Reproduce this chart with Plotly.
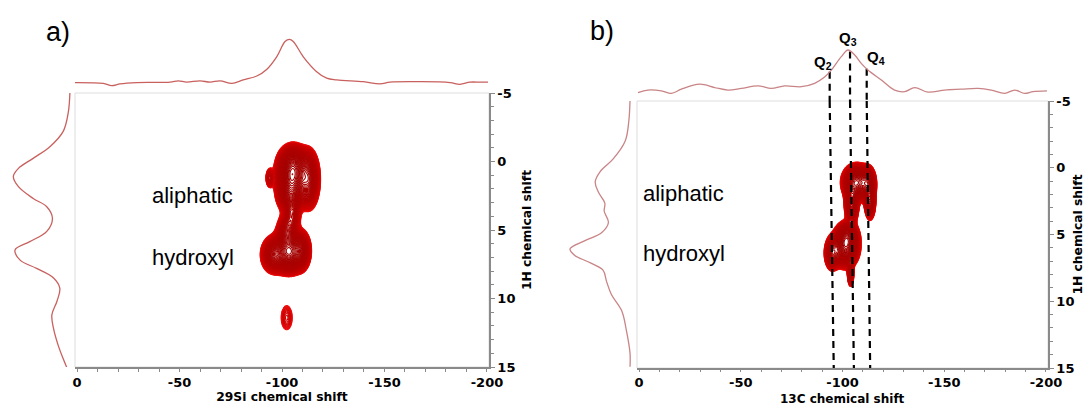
import numpy as np
import plotly.graph_objects as go

W, H = 1085, 407

# ---------------- data ----------------
# Panel a) 29Si projection (top)
a_top_shift = [1, -12.8, -16.9, -21, -29.1, -45.4, -49.4, -53.5, -60, -64.9, -69.8, -75.5, -81.1,
               -87.7, -92.5, -97.4, -101.5, -103.6, -105.5, -110.4, -116.9, -121.8, -126.7,
               -139.7, -147.8, -152.7, -167.3, -182, -186.8, -191.7, -196.6, -200.5]
a_top_int = [0.01, -0.01, -0.06, -0.02, 0.01, 0.02, 0.05, 0.02, 0.05, 0.02, 0.05, -0.01, 0.07,
             0.16, 0.31, 0.60, 0.95, 1.0, 0.95, 0.60, 0.26, 0.11, 0.07,
             0.03, -0.02, 0.02, 0.03, 0.01, -0.03, 0.02, 0.02, 0.02]
# Panel a) 1H projection (left)
a_left_ppm = [-5.2, -3.6, -2.2, -1.1, -0.23, 0.5, 1.1, 1.84, 2.7, 3.3, 4.15, 5.1, 5.85, 6.46,
              7.2, 7.8, 8.5, 9.25, 10.2, 11.2, 12.2, 13.4, 14.4, 15.3]
a_left_int = [0, 0.03, 0.12, 0.35, 0.65, 0.91, 1.0, 0.91, 0.65, 0.41, 0.31, 0.41, 0.71, 0.97,
              0.88, 0.59, 0.29, 0.18, 0.23, 0.32, 0.29, 0.21, 0.12, 0.03]
# Panel a) 2D cross peaks (29Si shift, 1H shift, widths, relative intensity)
a_pk_x = [-105, -94.0, -113, -106, -105, -104, -103.5, -96, -109.5, -102.5, -102.3]
a_pk_y = [1.1, 1.2, 1.3, 0.1, 3.9, 2.5, 6.6, 6.8, 6.5, 5.2, 11.4]
a_pk_sx = [3.5, 1.1, 2.5, 3.5, 2.0, 3.0, 3.5, 3.0, 2.2, 2.5, 2.3]
a_pk_sy = [0.9, 0.4, 1.0, 0.6, 0.6, 0.6, 0.7, 0.65, 0.7, 0.7, 0.75]
a_pk_amp = [1.0, 0.12, 0.45, 0.3, 0.2, 0.35, 0.85, 0.35, 0.3, 0.3, 0.06]

# Panel b) top projection
b_top_shift = [0.5, -4.4, -11, -15.9, -20.8, -29.8, -37.2, -43.7, -50.3, -58.5, -65, -71.6, -79.8,
               -86.3, -91.2, -94.5, -99.4, -102.7, -106, -109.2, -112.5, -119.1, -125.6, -130.6,
               -135.5, -142, -150.2, -158.4, -166.6, -173.1, -179.7, -184.6, -189.5, -193.6, -200.5]
b_top_int = [-0.02, 0.04, 0.02, -0.04, 0.06, 0.18, 0.10, 0.04, 0.08, 0.14, 0.08, 0.14, 0.12,
             0.20, 0.35, 0.52, 0.84, 1.0, 0.88, 0.68, 0.52, 0.28, 0.04, 0.0,
             0.10, -0.01, 0.04, 0.06, 0.08, 0.04, -0.04, 0.04, -0.04, 0.0, 0.02]
# Panel b) 1H projection (left)
b_left_ppm = [-5.07, -3.5, -2.0, -0.66, 0.3, 1.05, 1.8, 2.65, 3.26, 4.1, 4.85, 5.46, 6.08, 6.57,
              7.06, 7.67, 8.53, 9.5, 10.7, 12.2, 13.9, 14.9]
b_left_int = [0, 0.02, 0.08, 0.28, 0.5, 0.58, 0.53, 0.42, 0.43, 0.36, 0.47, 0.75, 1.0, 0.92,
              0.69, 0.45, 0.39, 0.31, 0.14, 0.06, 0.0, 0.0]
# Panel b) 2D cross peaks
b_pk_x = [-107, -112.5, -104.5, -113.5, -101.5, -95, -104, -102.5]
b_pk_y = [1.1, 1.2, 2.6, 2.5, 5.9, 6.4, 7.9, 5.1]
b_pk_sx = [3.2, 1.8, 1.6, 1.3, 3.0, 1.8, 0.8, 2.5]
b_pk_sy = [0.6, 0.6, 0.75, 0.65, 0.7, 0.6, 0.5, 0.5]
b_pk_amp = [1.0, 0.6, 0.65, 0.5, 1.0, 0.5, 0.3, 0.5]

# Q-site guide lines (top / bottom positions) and labels
q_names = ["Q<sub>2</sub>", "Q<sub>3</sub>", "Q<sub>4</sub>"]
q_top = [-93.7, -103.7, -111.9]
q_bottom = [-95.7, -105.6, -113.6]
q_lab_x = [-90.4, -102.5, -116.5]
q_lab_y = [0.71, 1.28, 0.81]

# labels
region_names = ["aliphatic", "hydroxyl"]
a_region_y = [2.5, 7.0]
b_region_y = [1.9, 6.45]
region_x_a = -35.5
region_x_b = -1.0

x_ticks = [0, -50, -100, -150, -200]
x_tick_text = ["0", "-50", "-100", "-150", "-200"]
y_ticks = [-5, 0, 5, 10, 15]
y_tick_text = ["-5", "0", "5", "10", "15"]

# ---------------- helpers ----------------
def px2x(p):
    return p / W

def py2y(p):
    return 1 - p / H

red_scale = [[0, "#f21212"], [0.12, "#d20000"], [0.45, "#b20000"], [1, "#a00000"]]

def field(px, py, sx, sy, amp, xg, yg):
    X, Y = np.meshgrid(xg, yg)
    Z = np.zeros_like(X)
    for cx, cy, wx, wy, a in zip(px, py, sx, sy, amp):
        Z += a * np.exp(-0.5 * ((X - cx) / wx) ** 2 - 0.5 * ((Y - cy) / wy) ** 2)
    return Z

def contour_trace(xg, yg, Z, thr, n, xa, ya):
    L = np.log10(np.maximum(Z, 1e-6))
    lo = float(np.log10(thr))
    hi = float(L.max())
    return go.Contour(
        x=xg, y=yg, z=np.round(L, 3), xaxis=xa, yaxis=ya,
        contours=dict(coloring="lines", start=lo, end=hi, size=(hi - lo) / n, showlabels=False),
        autocontour=False, colorscale=red_scale, zmin=lo, zmax=hi, zauto=False,
        line=dict(width=1.1), showscale=False, hoverinfo="skip")

proj_a_col = "#c8605e"
proj_b_col = "#c98486"

fig = go.Figure()

# ---- panel a ----
xa_g = np.arange(-128, -80, 0.2)
ya_g = np.arange(-3.5, 14, 0.05)
Za = field(a_pk_x, a_pk_y, a_pk_sx, a_pk_sy, a_pk_amp, xa_g, ya_g)
fig.add_trace(contour_trace(xa_g, ya_g, Za, 0.03, 60, "x", "y"))
fig.add_trace(go.Scatter(x=a_top_shift, y=a_top_int, mode="lines", xaxis="x2", yaxis="y2",
                         line=dict(color=proj_a_col, width=1.3, shape="spline"), hoverinfo="skip"))
fig.add_trace(go.Scatter(x=a_left_int, y=a_left_ppm, mode="lines", xaxis="x3", yaxis="y3",
                         line=dict(color=proj_a_col, width=1.3, shape="spline"), hoverinfo="skip"))

# ---- panel b ----
xb_g = np.arange(-125, -83, 0.2)
yb_g = np.arange(-2.5, 10.5, 0.05)
Zb = field(b_pk_x, b_pk_y, b_pk_sx, b_pk_sy, b_pk_amp, xb_g, yb_g)
fig.add_trace(contour_trace(xb_g, yb_g, Zb, 0.04, 55, "x4", "y4"))

b_top_min = -0.223
for i in range(3):
    top_val = float(np.interp(-q_top[i], [-v for v in b_top_shift], b_top_int))
    fig.add_trace(go.Scatter(x=[q_top[i], q_top[i]], y=[top_val, b_top_min], mode="lines",
                             xaxis="x5", yaxis="y5", hoverinfo="skip",
                             line=dict(color="black", width=2.2, dash="7px,5px")))
    fig.add_trace(go.Scatter(x=[q_top[i], q_bottom[i]], y=[-5, 15], mode="lines",
                             xaxis="x4", yaxis="y4", hoverinfo="skip",
                             line=dict(color="black", width=2.2, dash="7px,5px")))

fig.add_trace(go.Scatter(x=b_top_shift, y=b_top_int, mode="lines", xaxis="x5", yaxis="y5",
                         line=dict(color=proj_b_col, width=1.3, shape="spline"), hoverinfo="skip"))
fig.add_trace(go.Scatter(x=b_left_int, y=b_left_ppm, mode="lines", xaxis="x6", yaxis="y6",
                         line=dict(color=proj_b_col, width=1.3, shape="spline"), hoverinfo="skip"))

# ---------------- axes ----------------
tickfont = dict(family="DejaVu Sans", size=13, color="black", weight="bold")
titlefont = dict(family="DejaVu Sans", size=12.3, color="black", weight="bold")
axcol = "#8a8a8a"

def main_x(dom, anchor, title, standoff, ticklen):
    d = dict(domain=dom, range=[1, -201], anchor=anchor, showline=True, linecolor=axcol,
             linewidth=1.5, ticks="outside", ticklen=ticklen, tickcolor=axcol, tickwidth=1,
             tickvals=x_ticks, ticktext=x_tick_text, tickfont=tickfont, automargin=False,
             minor=dict(dtick=10, tick0=0, ticks="outside", ticklen=ticklen, tickcolor=axcol),
             showgrid=False, zeroline=False)
    if title:
        d["title"] = dict(text=title, font=titlefont, standoff=standoff)
    return d

def main_y(dom, anchor, standoff):
    return dict(domain=dom, range=[15, -5], anchor=anchor, side="right", showline=True,
                linecolor=axcol, linewidth=1.5, ticks="outside", ticklen=4, tickcolor=axcol,
                tickvals=y_ticks, ticktext=y_tick_text, tickfont=tickfont, automargin=False,
                minor=dict(dtick=1, tick0=0, ticks="outside", ticklen=3, tickcolor=axcol),
                showgrid=False, zeroline=False,
                title=dict(text="1H chemical shift", font=titlefont, standoff=standoff))

hidden = dict(visible=False, showgrid=False, zeroline=False, automargin=False)

a_xdom = [px2x(75), px2x(489)]
a_ydom = [py2y(367), py2y(93)]
b_xdom = [px2x(637), px2x(1048)]
b_ydom = [py2y(368), py2y(101)]

fig.update_layout(
    width=W, height=H, margin=dict(l=0, r=0, t=0, b=0, autoexpand=False),
    paper_bgcolor="white", plot_bgcolor="white", showlegend=False,
    xaxis=main_x(a_xdom, "y", "29Si chemical shift", 0, 3),
    yaxis=main_y(a_ydom, "x", 8),
    xaxis2=dict(domain=a_xdom, range=[1, -201], anchor="y2", **hidden),
    yaxis2=dict(domain=[py2y(92), py2y(30)], range=[-0.206, 1.213], anchor="x2", **hidden),
    xaxis3=dict(domain=[px2x(5), px2x(75)], range=[1.147, -0.088], anchor="y3", **hidden),
    yaxis3=dict(domain=a_ydom, range=[15, -5], anchor="x3", **hidden),
    xaxis4=main_x(b_xdom, "y4", None, 0, 2),
    yaxis4=main_y(b_ydom, "x4", 2),
    xaxis5=dict(domain=b_xdom, range=[1, -201], anchor="y5", **hidden),
    yaxis5=dict(domain=[py2y(101), py2y(30)], range=[b_top_min, 1.48], anchor="x5", **hidden),
    xaxis6=dict(domain=[px2x(555), px2x(635)], range=[1.25, -0.083], anchor="y6", **hidden),
    yaxis6=dict(domain=b_ydom, range=[15, -5], anchor="x6", **hidden),
)

# panel b x-axis title, tucked against the bottom edge
fig.add_annotation(x=-100, y=0, xref="x4", yref="paper", text="13C chemical shift",
                   showarrow=False, xanchor="center", yanchor="bottom", borderpad=0,
                   font=dict(family="DejaVu Sans", size=12, color="black", weight="bold"))

# light frame around the main plots
for xr, yr in [("x", "y"), ("x4", "y4")]:
    fig.add_shape(type="rect", xref=xr + " domain", yref=yr + " domain", x0=0, x1=1, y0=0, y1=1,
                  line=dict(color="#dddddd", width=1), layer="below")

# annotations
lab_font = dict(family="Liberation Sans", size=22, color="black")
for name, yv in zip(region_names, a_region_y):
    fig.add_annotation(x=region_x_a, y=yv, xref="x", yref="y", text=name, showarrow=False,
                       xanchor="left", yanchor="middle", font=lab_font)
for name, yv in zip(region_names, b_region_y):
    fig.add_annotation(x=region_x_b, y=yv, xref="x4", yref="y4", text=name, showarrow=False,
                       xanchor="left", yanchor="middle", font=lab_font)
for name, xv, yv in zip(q_names, q_lab_x, q_lab_y):
    fig.add_annotation(x=xv, y=yv, xref="x5", yref="y5", text=name, showarrow=False,
                       xanchor="center", yanchor="middle",
                       font=dict(family="Liberation Sans", size=15, color="black", weight="bold"))
panel_font = dict(family="Liberation Sans", size=27, color="black")
fig.add_annotation(x=px2x(58), y=py2y(32), xref="paper", yref="paper", text="a)",
                   showarrow=False, xanchor="center", yanchor="middle", font=panel_font)
fig.add_annotation(x=px2x(602), y=py2y(31), xref="paper", yref="paper", text="b)",
                   showarrow=False, xanchor="center", yanchor="middle", font=panel_font)

fig.write_html("out.html", config=dict(displayModeBar=False),
               post_script="document.body.style.margin='0';")
